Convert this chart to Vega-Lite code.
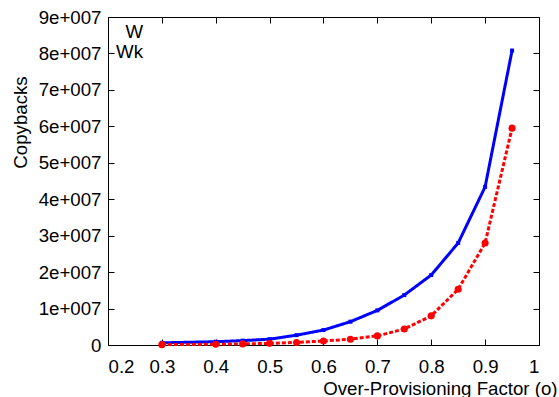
{
  "$schema": "https://vega.github.io/schema/vega-lite/v6.json",
  "autosize": {"type": "none"},
  "padding": {"left": 108, "top": 17, "right": 20, "bottom": 52},
  "width": 431,
  "height": 328,
  "background": "white",
  "config": {
    "view": {"stroke": "black", "strokeWidth": 1},
    "font": "Liberation Sans",
    "axis": {
      "grid": false,
      "domainColor": "black",
      "tickColor": "black",
      "tickSize": -6,
      "labelColor": "black",
      "labelFont": "Liberation Sans",
      "labelFontSize": 18.67,
      "titleFont": "Liberation Sans",
      "titleFontSize": 18.67,
      "titleFontWeight": "normal",
      "titleColor": "black"
    }
  },
  "data": {
    "values": [
      {"o": 0.3, "series": "W", "value": 600000},
      {"o": 0.4, "series": "W", "value": 900000},
      {"o": 0.45, "series": "W", "value": 1200000},
      {"o": 0.5, "series": "W", "value": 1600000},
      {"o": 0.55, "series": "W", "value": 2700000},
      {"o": 0.6, "series": "W", "value": 4100000},
      {"o": 0.65, "series": "W", "value": 6400000},
      {"o": 0.7, "series": "W", "value": 9500000},
      {"o": 0.75, "series": "W", "value": 13700000},
      {"o": 0.8, "series": "W", "value": 19200000},
      {"o": 0.85, "series": "W", "value": 28000000},
      {"o": 0.9, "series": "W", "value": 43400000},
      {"o": 0.95, "series": "W", "value": 80800000},
      {"o": 0.3, "series": "Wk", "value": 100000},
      {"o": 0.4, "series": "Wk", "value": 200000},
      {"o": 0.45, "series": "Wk", "value": 300000},
      {"o": 0.5, "series": "Wk", "value": 450000},
      {"o": 0.55, "series": "Wk", "value": 700000},
      {"o": 0.6, "series": "Wk", "value": 1100000},
      {"o": 0.65, "series": "Wk", "value": 1600000},
      {"o": 0.7, "series": "Wk", "value": 2500000},
      {"o": 0.75, "series": "Wk", "value": 4400000},
      {"o": 0.8, "series": "Wk", "value": 8000000},
      {"o": 0.85, "series": "Wk", "value": 15300000},
      {"o": 0.9, "series": "Wk", "value": 28000000},
      {"o": 0.95, "series": "Wk", "value": 59500000}
    ]
  },
  "encoding": {
    "x": {"field": "o", "type": "quantitative", "scale": {"domain": [0.2, 1], "nice": false, "zero": false}},
    "y": {"field": "value", "type": "quantitative", "scale": {"domain": [0, 90000000], "nice": false}}
  },
  "resolve": {"axis": {"x": "independent", "y": "independent"}},
  "layer": [
    {
      "mark": {"type": "line", "strokeWidth": 3},
      "encoding": {
        "x": {"field": "o", "type": "quantitative",
          "axis": {"orient": "bottom", "values": [0.2, 0.3, 0.4, 0.5, 0.6, 0.7, 0.8, 0.9, 1], "labelExpr": "datum.value == 1 ? '1' : format(datum.value, '.1f')", "labelPadding": 18, "domain": false,
            "title": "Over-Provisioning Factor (o)", "titleX": 449, "titleY": 43, "titleAlign": "right", "titleBaseline": "middle", "titleAnchor": null}},
        "y": {"field": "value", "type": "quantitative",
          "axis": {"orient": "left", "values": [0, 10000000, 20000000, 30000000, 40000000, 50000000, 60000000, 70000000, 80000000, 90000000], "labelExpr": "datum.value == 0 ? '0' : format(datum.value / 10000000, 'd') + 'e+007'", "labelPadding": 13, "domain": false,
            "title": "Copybacks", "titleX": -88, "titleY": 105, "titleAlign": "center", "titleBaseline": "middle", "titleAngle": -90, "titleAnchor": null}},
        "color": {"field": "series", "type": "nominal", "scale": {"domain": ["W", "Wk"], "range": ["#0000ff", "#ff0000"]},
          "legend": {"orient": "none", "legendX": 43.5, "legendY": 5, "title": null, "padding": 0, "symbolType": "stroke", "symbolSize": 2704, "symbolStrokeWidth": 3, "clipHeight": 19, "labelAlign": "right", "labelOffset": -63.5, "labelFontSize": 18.67, "labelFont": "Liberation Sans", "labelColor": "black", "rowPadding": 0,
            "encode": {"symbols": {"update": {
              "size": {"value": 2704},
              "stroke": {"signal": "datum.value === 'W' ? '#0000ff' : '#ff0000'"},
              "strokeWidth": {"value": 3},
              "strokeDash": {"signal": "datum.value === 'W' ? [1, 0] : [4, 2]"}
            }}}}},
        "strokeDash": {"field": "series", "type": "nominal", "scale": {"domain": ["W", "Wk"], "range": [[1, 0], [4, 2]]}, "legend": null}
      }
    },
    {
      "transform": [{"filter": "datum.series === 'W'"}],
      "mark": {"type": "square", "filled": true, "color": "#0000ff", "size": 16, "opacity": 1},
      "encoding": {
        "x": {"field": "o", "type": "quantitative", "axis": null},
        "y": {"field": "value", "type": "quantitative", "axis": null}
      }
    },
    {
      "transform": [{"filter": "datum.series === 'Wk'"}],
      "mark": {"type": "circle", "filled": true, "color": "#ff0000", "size": 50, "opacity": 1},
      "encoding": {
        "x": {"field": "o", "type": "quantitative", "axis": null},
        "y": {"field": "value", "type": "quantitative", "axis": null}
      }
    },
    {
      "mark": {"type": "point", "opacity": 0},
      "encoding": {
        "x": {"field": "o", "type": "quantitative", "axis": {"orient": "top", "values": [0.2, 0.3, 0.4, 0.5, 0.6, 0.7, 0.8, 0.9, 1], "labels": false, "domain": false, "title": null}},
        "y": {"field": "value", "type": "quantitative", "axis": {"orient": "right", "values": [0, 10000000, 20000000, 30000000, 40000000, 50000000, 60000000, 70000000, 80000000, 90000000], "labels": false, "domain": false, "title": null}}
      }
    }
  ]
}
